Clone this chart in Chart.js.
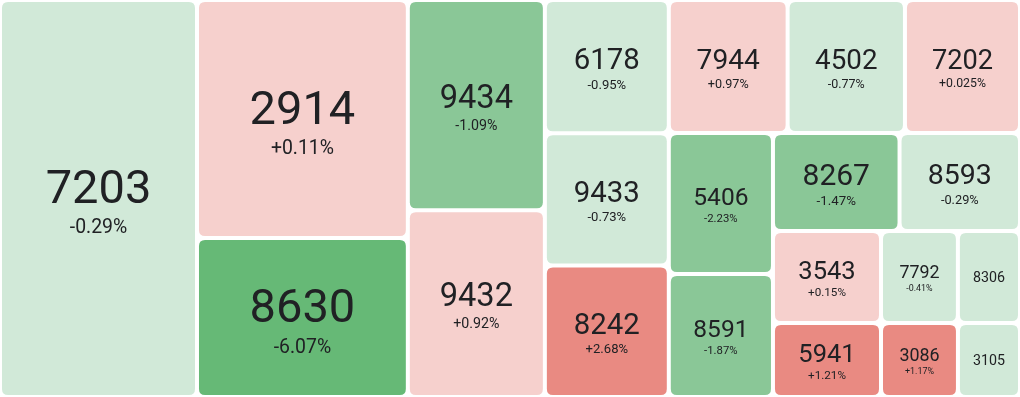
<!DOCTYPE html>
<html>
<head>
<meta charset="utf-8">
<script src="https://cdn.jsdelivr.net/npm/chart.js@4.4.1/dist/chart.umd.min.js"></script>
<style>
  html, body { margin: 0; padding: 0; background: #fff; }
  #wrap { width: 1020px; height: 397px; }
</style>
</head>
<body>
<div id="wrap"><canvas id="heatChart"></canvas></div>
<script>
// stock codes, size weight and day change in %
var codes   = ['7203', '2914', '8630', '9434', '9432', '6178', '9433', '8242', '7944', '4502', '7202',
               '5406', '8591', '8267', '8593', '3543', '5941', '7792', '8306', '3086', '3105'];
var sizes   = [782, 502, 335, 288, 256, 165, 164, 163, 158, 156, 153,
               147, 128, 124, 118, 99.4, 80, 70.8, 57.2, 56.9, 45.9];
var changes = [-0.29, 0.11, -6.07, -1.09, 0.92, -0.95, -0.73, 2.68, 0.97, -0.77, 0.025,
               -2.23, -1.87, -1.47, -0.29, 0.15, 1.21, -0.41, -0.35, 1.17, -0.5];

// plot extent in data units
var W = 1020, H = 397;

function cellColor(c) {
    if (c < 0) {
        if (c <= -3) return '#66b976';
        if (c <= -1) return '#8ac797';
        return '#d1e9d8';
    }
    if (c >= 1) return '#e98a82';
    return '#f6d0cd';
}

function fmtChange(c) {
    var s = String(Math.abs(c));
    var dec = s.indexOf('.') < 0 ? 0 : s.length - s.indexOf('.') - 1;
    return (c > 0 ? '+' : '-') + Math.abs(c).toFixed(Math.max(2, dec)) + '%';
}

// squarified treemap, biggest first
function squarify(nodes, x0, y0, x1, y1) {
    var out = [];
    var value = 0;
    nodes.forEach(function (nd) { value += nd.value; });
    var i0 = 0, n = nodes.length;
    while (i0 < n) {
        var dx = x1 - x0, dy = y1 - y0;
        var i1 = i0;
        var sum = nodes[i1++].value, minV = sum, maxV = sum;
        var alpha = Math.max(dy / dx, dx / dy) / value;
        var beta = sum * sum * alpha;
        var minRatio = Math.max(maxV / beta, beta / minV);
        for (; i1 < n; i1++) {
            var v = nodes[i1].value;
            sum += v;
            if (v < minV) minV = v;
            if (v > maxV) maxV = v;
            beta = sum * sum * alpha;
            var r = Math.max(maxV / beta, beta / minV);
            if (r > minRatio) { sum -= v; break; }
            minRatio = r;
        }
        var row = nodes.slice(i0, i1);
        if (dx < dy) {
            var yb = y0 + dy * sum / value, x = x0;
            row.forEach(function (nd) {
                var w = dx * nd.value / sum;
                out.push({ node: nd, x0: x, y0: y0, x1: x + w, y1: yb });
                x += w;
            });
            y0 = yb;
        } else {
            var xb = x0 + dx * sum / value, y = y0;
            row.forEach(function (nd) {
                var h = dy * nd.value / sum;
                out.push({ node: nd, x0: x0, y0: y, x1: xb, y1: y + h });
                y += h;
            });
            x0 = xb;
        }
        value -= sum;
        i0 = i1;
    }
    return out;
}

var nodes = codes.map(function (c, i) {
    return { code: c, value: sizes[i], change: changes[i] };
}).sort(function (a, b) { return b.value - a.value; });

var cells = squarify(nodes, 0, 0, W, H);

function roundRect(ctx, x, y, w, h, r) {
    ctx.beginPath();
    ctx.moveTo(x + r, y);
    ctx.lineTo(x + w - r, y);
    ctx.quadraticCurveTo(x + w, y, x + w, y + r);
    ctx.lineTo(x + w, y + h - r);
    ctx.quadraticCurveTo(x + w, y + h, x + w - r, y + h);
    ctx.lineTo(x + r, y + h);
    ctx.quadraticCurveTo(x, y + h, x, y + h - r);
    ctx.lineTo(x, y + r);
    ctx.quadraticCurveTo(x, y, x + r, y);
    ctx.closePath();
}

var treemapCells = {
    id: 'treemapCells',
    afterDatasetsDraw: function (chart) {
        var ctx = chart.ctx, xs = chart.scales.x, ys = chart.scales.y;
        var gap = 2;
        ctx.save();
        cells.forEach(function (cell) {
            var px0 = xs.getPixelForValue(cell.x0) + gap;
            var px1 = xs.getPixelForValue(cell.x1) - gap;
            var py0 = ys.getPixelForValue(cell.y0) + gap;
            var py1 = ys.getPixelForValue(cell.y1) - gap;
            var w = px1 - px0, h = py1 - py0;
            ctx.fillStyle = cellColor(cell.node.change);
            roundRect(ctx, px0, py0, w, h, 6);
            ctx.fill();

            var cx = (px0 + px1) / 2, cy = (py0 + py1) / 2;
            var nf = Math.min(w * 0.245, 47);
            var pf = Math.max(nf * 0.36 + 2.5, 8.5);
            var showPct = nf >= 16;
            ctx.fillStyle = '#202124';
            ctx.textAlign = 'center';
            ctx.textBaseline = 'alphabetic';
            if (showPct) {
                var block = 0.72 * nf + 0.35 * nf + 0.72 * pf;
                var nb = cy - block / 2 + 0.72 * nf + 0.06 * nf;
                ctx.font = '400 ' + nf + 'px Roboto';
                ctx.fillText(cell.node.code, cx, nb);
                ctx.font = '400 ' + pf + 'px Roboto';
                ctx.fillText(fmtChange(cell.node.change), cx, nb + 0.35 * nf + 0.72 * pf);
            } else {
                ctx.font = '400 ' + nf + 'px Roboto';
                ctx.fillText(cell.node.code, cx, cy + 0.36 * nf);
            }
        });
        ctx.restore();
    }
};

var heatChart = new Chart(document.getElementById('heatChart'), {
    type: 'scatter',
    data: { datasets: [{ data: [] }] },
    options: {
        responsive: true,
        maintainAspectRatio: false,
        animation: false,
        layout: { padding: 0 },
        plugins: {
            legend: { display: false },
            tooltip: { enabled: false }
        },
        scales: {
            x: { type: 'linear', min: 0, max: W, display: false },
            y: { type: 'linear', min: 0, max: H, reverse: true, display: false }
        }
    },
    plugins: [treemapCells]
});
</script>
</body>
</html>
